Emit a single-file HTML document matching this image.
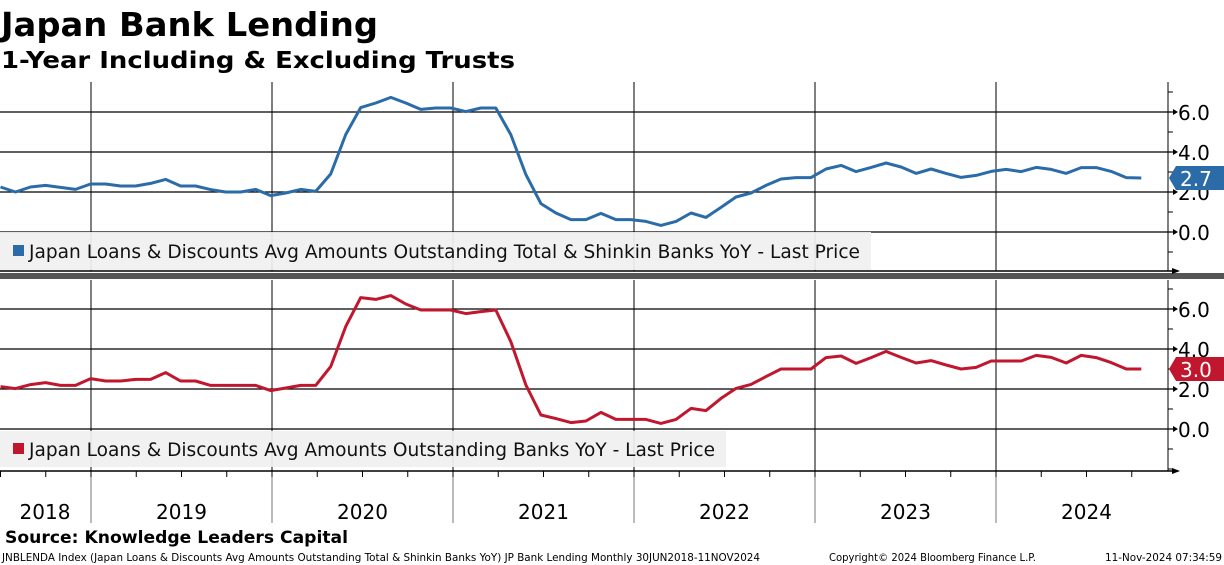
<!DOCTYPE html>
<html><head><meta charset="utf-8">
<style>
html,body{margin:0;padding:0;background:#fff;}
svg{display:block;}
text{font-family:"DejaVu Sans","Liberation Sans",sans-serif;}
</style></head>
<body>
<svg id="chart" width="1224" height="565" viewBox="0 0 1224 565" xmlns="http://www.w3.org/2000/svg">
  <text x="1" y="36" font-size="33" font-weight="bold" textLength="377" lengthAdjust="spacingAndGlyphs">Japan Bank Lending</text>
  <text x="1" y="68" font-size="23" font-weight="bold" textLength="514" lengthAdjust="spacingAndGlyphs">1-Year Including &amp; Excluding Trusts</text>
  <g id="grid"></g>
  <g id="series"></g>
  <g id="legends"></g>
  <text x="5" y="543" font-size="17" font-weight="bold" textLength="343" lengthAdjust="spacingAndGlyphs">Source: Knowledge Leaders Capital</text>
  <text x="2" y="561" font-size="10.5" textLength="758" lengthAdjust="spacingAndGlyphs">JNBLENDA Index (Japan Loans &amp; Discounts Avg Amounts Outstanding Total &amp; Shinkin Banks YoY) JP Bank Lending  Monthly 30JUN2018-11NOV2024</text>
  <text x="829" y="561" font-size="10.5" textLength="207" lengthAdjust="spacingAndGlyphs">Copyright© 2024 Bloomberg Finance L.P.</text>
  <text x="1105" y="561" font-size="10.5" textLength="117" lengthAdjust="spacingAndGlyphs">11-Nov-2024 07:34:59</text>
</svg>
<script>
const years = ["2018","2019","2020","2021","2022","2023","2024"];
const yTicks = [0, 2, 4, 6];
const totalShinkin = [2.25,2.0,2.25,2.33,2.23,2.13,
 2.4,2.4,2.3,2.3,2.43,2.63,2.3,2.3,2.12,2.0,2.0,2.13,
 1.82,1.95,2.13,2.03,2.9,4.87,6.22,6.45,6.73,6.45,6.13,6.2,
 6.2,6.02,6.2,6.2,4.87,2.87,1.42,0.95,0.62,0.62,0.93,0.62,
 0.62,0.53,0.33,0.53,0.95,0.73,1.23,1.75,1.95,2.33,2.65,2.72,
 2.72,3.15,3.33,3.02,3.23,3.45,3.25,2.93,3.15,2.93,2.73,2.83,
 3.03,3.13,3.02,3.23,3.13,2.93,3.22,3.22,3.03,2.72,2.7];
const banks = [2.12,2.02,2.22,2.32,2.18,2.18,
 2.52,2.4,2.4,2.48,2.48,2.82,2.4,2.4,2.18,2.18,2.18,2.18,
 1.92,2.05,2.18,2.18,3.12,5.12,6.57,6.48,6.67,6.25,5.95,5.95,
 5.95,5.77,5.87,5.95,4.37,2.2,0.7,0.52,0.32,0.4,0.83,0.48,
 0.48,0.48,0.28,0.48,1.03,0.92,1.53,2.03,2.23,2.62,3.0,3.0,
 3.0,3.57,3.65,3.28,3.57,3.88,3.58,3.3,3.42,3.2,3.0,3.08,
 3.4,3.4,3.4,3.68,3.58,3.3,3.68,3.57,3.32,3.0,3.0];
const lastTop = "2.7", lastBottom = "3.0";

const NS = "http://www.w3.org/2000/svg";
const axisX = 1168, jan19 = 91;
function xOf(i){ return 0.5 + i * 15.01; }
const panels = [
  {top:82, bottom:271, zeroY:232, color:"#2b6ca8", data:totalShinkin, last:lastTop, name:"top",
   legend:"Japan Loans & Discounts Avg Amounts Outstanding Total & Shinkin Banks YoY - Last Price", lx:0, ly:232, lw:871, lh:38},
  {top:280, bottom:471, zeroY:429, color:"#c0172f", data:banks, last:lastBottom, name:"bottom",
   legend:"Japan Loans & Discounts Avg Amounts Outstanding Banks YoY - Last Price", lx:0, ly:431, lw:726, lh:36}
];
function mk(tag, attrs, parent){ const e=document.createElementNS(NS,tag); for(const k in attrs) e.setAttribute(k,attrs[k]); parent.appendChild(e); return e; }
const grid = document.getElementById('grid'), ser = document.getElementById('series'), leg = document.getElementById('legends');

const sep = mk('rect',{x:0,y:273,width:1224,height:6,fill:'#555'},grid);



panels.forEach(p=>{
  const yOf = v => p.zeroY - v*20;
  for(let k=1;k<years.length;k++){
    const x = jan19 + (k-1)*181;
    const l = mk('line',{x1:x,y1:p.top,x2:x,y2:p.bottom,stroke:'#000','stroke-width':1},grid);
    
    
  }
  yTicks.forEach(t=>{
    const y = yOf(t);
    const l = mk('line',{x1:0,y1:y,x2:axisX+6,y2:y,stroke:'#000','stroke-width':1.2},grid);
    
    
    mk('path',{d:`M${axisX+5} ${y-3}L${axisX+10} ${y}L${axisX+5} ${y+3}Z`,fill:'#000'},grid);
    const tx = mk('text',{x:1178,y:y+8,'font-size':20},grid);
    tx.textContent = t.toFixed(1);
    
    
  });
  for(let v=-2; v<=7; v++){
    const y=yOf(v); if(y<p.top||y>p.bottom) continue;
    mk('line',{x1:axisX,y1:y,x2:axisX+5,y2:y,stroke:'#000','stroke-width':1},grid);
  }
  const ax = mk('line',{x1:axisX,y1:p.top,x2:axisX,y2:p.bottom,stroke:'#000','stroke-width':1},grid);
  
  
  const bl = mk('line',{x1:0,y1:p.bottom,x2:axisX+6,y2:p.bottom,stroke:'#000','stroke-width':1.5},grid);
  
  
  mk('path',{d:`M${axisX+4} ${p.bottom-3}L${axisX+12} ${p.bottom}L${axisX+4} ${p.bottom+3}Z`,fill:'#000'},grid);

  const lg = mk('g',{},leg);
  
  
  mk('rect',{x:p.lx,y:p.ly,width:p.lw,height:p.lh,fill:'#f0f0f0','fill-opacity':0.93},lg);
  mk('rect',{x:13,y:p.ly+p.lh/2-6,width:11,height:11,fill:p.color},lg);
  const lt = mk('text',{x:29,y:p.ly+p.lh/2+7,'font-size':19,fill:'#111',textLength:p.lw-40,lengthAdjust:'spacingAndGlyphs'},lg);
  lt.textContent = p.legend;

  const pts = p.data.map((v,i)=>xOf(i).toFixed(1)+','+yOf(v).toFixed(1)).join(' ');
  const pl = mk('polyline',{points:pts,fill:'none',stroke:p.color,'stroke-width':3,'stroke-linejoin':'round'},ser);
  
  

  const lv = p.data[p.data.length-1], ty = yOf(lv);
  const tag = mk('g',{},ser);
  
  
  mk('path',{d:`M1169 ${ty}L1176 ${ty-12}H1224V${ty+12}H1176Z`,fill:p.color},tag);
  const tt = mk('text',{x:1180,y:ty+8,'font-size':20,fill:'#fff'},tag);
  tt.textContent = p.last;
});

for(let k=1;k<years.length;k++){
  const x = jan19+(k-1)*181;
  mk('line',{x1:x,y1:471,x2:x,y2:523,stroke:'#777','stroke-width':1},grid);
}
for(let q=0;q<80;q+=3){
  const x = jan19 + (q-6)*181/12; if(x<0||x>axisX) continue;
  mk('line',{x1:x,y1:471,x2:x,y2:477,stroke:'#000','stroke-width':1},grid);
}
years.forEach((yr,k)=>{
  const cx = k===0 ? 45 : jan19+(k-1)*181+90.5;
  const t = mk('text',{x:cx,y:519,'font-size':20,'text-anchor':'middle'},grid);
  t.textContent = yr;
  
  
});
</script>
</body></html>
